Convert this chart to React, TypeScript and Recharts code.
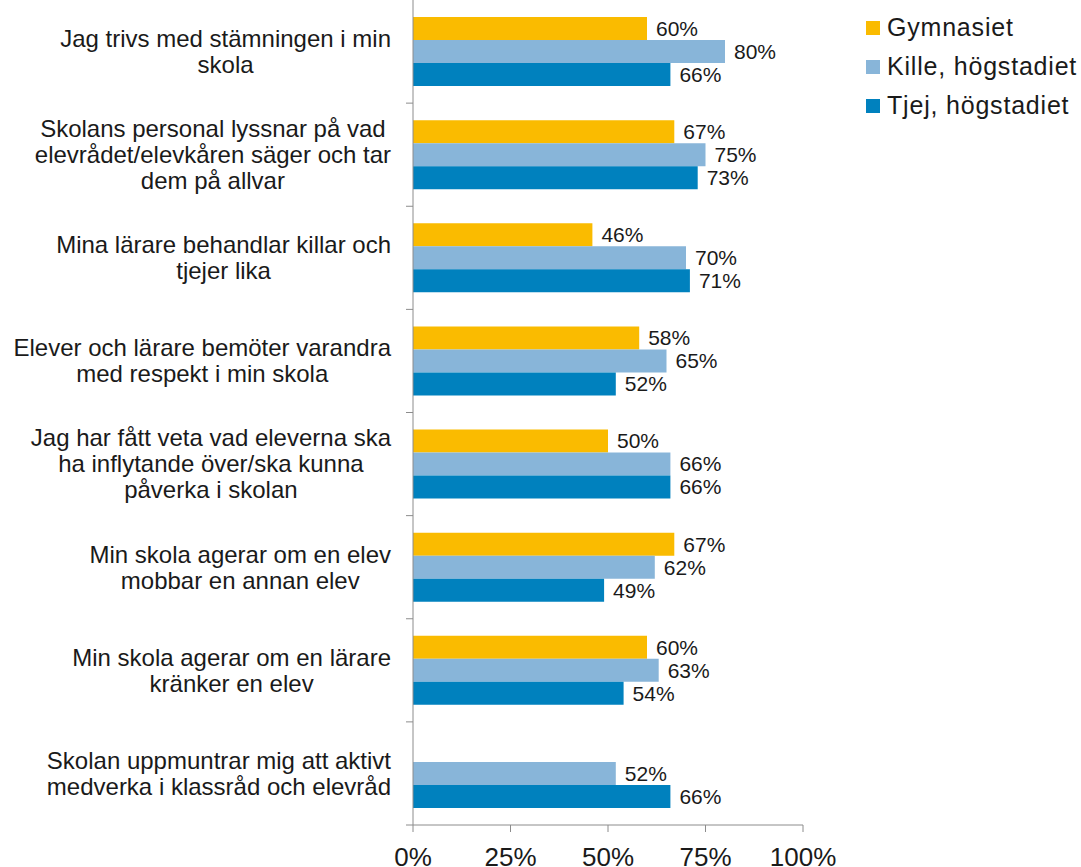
import { BarChart, Bar, XAxis, YAxis, LabelList } from 'recharts';

// category labels, one entry per printed line
const categories = [
  ['Jag trivs med stämningen i min', 'skola'],
  ['Skolans personal lyssnar på vad', 'elevrådet/elevkåren säger och tar', 'dem på allvar'],
  ['Mina lärare behandlar killar och', 'tjejer lika'],
  ['Elever och lärare bemöter varandra', 'med respekt i min skola'],
  ['Jag har fått veta vad eleverna ska', 'ha inflytande över/ska kunna', 'påverka i skolan'],
  ['Min skola agerar om en elev', 'mobbar en annan elev'],
  ['Min skola agerar om en lärare', 'kränker en elev'],
  ['Skolan uppmuntrar mig att aktivt', 'medverka i klassråd och elevråd'],
];

const gymnasiet = [60, 67, 46, 58, 50, 67, 60, null];
const kille = [80, 75, 70, 65, 66, 62, 63, 52];
const tjej = [66, 73, 71, 52, 66, 49, 54, 66];

const xTicks = [0, 25, 50, 75, 100];

const series = [
  { key: 'gymnasiet', name: 'Gymnasiet', color: '#FABB00' },
  { key: 'kille', name: 'Kille, högstadiet', color: '#88B5D9' },
  { key: 'tjej', name: 'Tjej, högstadiet', color: '#0081BE' },
];

const chartData = categories.map((lines, i) => ({
  name: lines.join(' '),
  gymnasiet: gymnasiet[i],
  kille: kille[i],
  tjej: tjej[i],
}));

const W = 1081;
const H = 867;
const MARGIN = { top: 0, right: 278, bottom: 0, left: 0 };
const AXIS_W = 413;
const XAXIS_H = 42;
const FONT = '"Liberation Sans", Arial, sans-serif';
const AXIS_COLOR = '#8c8c8c';

const bandSize = (H - MARGIN.top - MARGIN.bottom - XAXIS_H) / categories.length;

let ctx: CanvasRenderingContext2D | null = null;
const measure = (s: string) => {
  if (!ctx) ctx = document.createElement('canvas').getContext('2d');
  if (!ctx) return s.length * 12;
  ctx.font = `24px ${FONT}`;
  return ctx.measureText(s).width;
};

const CategoryTick = ({ x, y, index }: any) => {
  const lines = categories[index] ?? [];
  const maxW = Math.max(...lines.map(measure));
  const right = x - 14;
  const cx = right - maxW / 2;
  const lh = 26;
  const first = y - ((lines.length - 1) * lh) / 2;
  return (
    <g>
      <line x1={AXIS_W - 7} x2={AXIS_W} y1={y + bandSize / 2} y2={y + bandSize / 2} stroke={AXIS_COLOR} />
      <text x={cx} y={first} textAnchor="middle" fontSize={24} fill="#1a1a1a" fontFamily={FONT}>
        {lines.map((l: string, i: number) => (
          <tspan key={i} x={cx} y={first + i * lh} dy="0.35em">{l}</tspan>
        ))}
      </text>
    </g>
  );
};

const fmt = (v: any) => (v == null ? '' : `${v}%`);

export default function App() {
  return (
    <div style={{ position: 'absolute', left: 0, top: 0, width: W, height: H, background: '#fff' }}>
      <BarChart
        width={W}
        height={H}
        data={chartData}
        layout="vertical"
        margin={MARGIN}
        barGap={0}
        barSize={23}
      >
        <XAxis
          type="number"
          domain={[0, 100]}
          ticks={xTicks}
          tickFormatter={(v) => `${v}%`}
          height={XAXIS_H}
          tick={{ fontSize: 26, fill: '#1a1a1a', fontFamily: FONT }}
          tickSize={7}
          tickMargin={16}
          axisLine={{ stroke: AXIS_COLOR }}
          tickLine={{ stroke: AXIS_COLOR }}
          interval={0}
        />
        <YAxis
          type="category"
          dataKey="name"
          width={AXIS_W}
          tick={<CategoryTick />}
          tickLine={false}
          axisLine={{ stroke: AXIS_COLOR }}
          interval={0}
        />
        {series.map((s) => (
          <Bar key={s.key} dataKey={s.key} name={s.name} fill={s.color} isAnimationActive={false}>
            <LabelList
              dataKey={s.key}
              position="right"
              offset={9}
              formatter={fmt}
              style={{ fontSize: 21, fill: '#1a1a1a', fontFamily: FONT }}
            />
          </Bar>
        ))}
      </BarChart>
      <div style={{ position: 'absolute', left: 866, top: 8, fontFamily: FONT, fontSize: 25, color: '#1a1a1a' }}>
        {series.map((s) => (
          <div key={s.key} style={{ display: 'flex', alignItems: 'center', height: 39, letterSpacing: 0.8, whiteSpace: 'nowrap' }}>
            <span style={{ width: 14, height: 14, background: s.color, display: 'inline-block', marginRight: 7 }} />
            <span>{s.name}</span>
          </div>
        ))}
      </div>
    </div>
  );
}
